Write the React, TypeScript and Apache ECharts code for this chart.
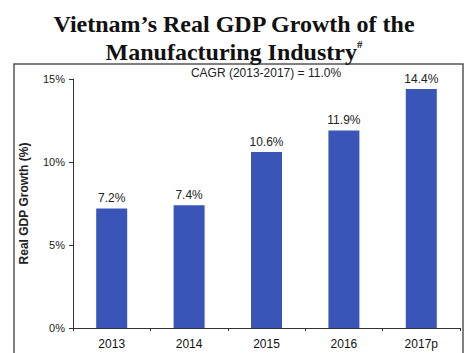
import React, { useEffect, useRef } from "react";
import * as echarts from "echarts";

const titleLines = ["Vietnam\u2019s Real GDP Growth of the", "Manufacturing Industry"];
const categories = ["2013", "2014", "2015", "2016", "2017p"];
const growth = [7.2, 7.4, 10.6, 11.9, 14.4];
const cagrText = "CAGR (2013-2017) = 11.0%";
const yAxisName = "Real GDP Growth (%)";

export default function App() {
  const ref = useRef<HTMLDivElement>(null);
  useEffect(() => {
    if (!ref.current) return;
    const chart = echarts.init(ref.current, undefined, { renderer: "svg" });
    chart.setOption({
      animation: false,
      backgroundColor: "#ffffff",
      title: {
        text: titleLines[0] + "\n" + titleLines[1] + "{sup|#}",
        left: "center",
        top: 5,
        textStyle: {
          fontFamily: "Liberation Serif",
          fontWeight: "bold",
          fontSize: 24,
          color: "#111",
          lineHeight: 28,
          rich: {
            sup: { fontFamily: "Liberation Serif", fontSize: 11, fontWeight: "bold", color: "#111", verticalAlign: "top", padding: [0, 0, 12, 0] },
          },
        },
      },
      graphic: [
        {
          type: "rect",
          shape: { x: 14, y: 64, width: 449, height: 300 },
          style: { fill: "none", stroke: "#555", lineWidth: 1.5 },
          silent: true,
        },
        {
          type: "text",
          x: 266,
          y: 73,
          style: {
            text: cagrText,
            fontFamily: "Liberation Sans",
            fontSize: 12,
            fill: "#222",
            align: "center",
            verticalAlign: "middle",
          },
        },
      ],
      grid: { left: 73, right: 8, top: 79, bottom: 25 },
      xAxis: {
        type: "category",
        data: categories,
        axisLine: { lineStyle: { color: "#333", width: 1 } },
        axisTick: { show: true, length: 3, inside: false, lineStyle: { color: "#333" } },
        axisLabel: { fontFamily: "Liberation Sans", fontSize: 12, color: "#111", margin: 10 },
      },
      yAxis: {
        type: "value",
        min: 0,
        max: 15,
        interval: 5,
        name: yAxisName,
        nameLocation: "middle",
        nameGap: 43,
        nameTextStyle: { fontFamily: "Liberation Sans", fontWeight: "bold", fontSize: 12, color: "#222" },
        axisLine: { show: true, lineStyle: { color: "#333", width: 1 } },
        axisTick: { show: true, length: 4, lineStyle: { color: "#333" } },
        splitLine: { show: false },
        axisLabel: { formatter: "{value}%", fontFamily: "Liberation Sans", fontSize: 11, color: "#222", margin: 8 },
      },
      series: [
        {
          type: "bar",
          data: growth,
          barWidth: 31,
          itemStyle: { color: "#3a55b8" },
          label: {
            show: true,
            position: "top",
            distance: 4,
            formatter: (p: any) => p.value.toFixed(1) + "%",
            fontFamily: "Liberation Sans",
            fontSize: 12,
            color: "#222",
          },
        },
      ],
    });
    return () => chart.dispose();
  }, []);
  return <div ref={ref} style={{ width: 468, height: 353, position: "absolute", left: 0, top: 0 }} />;
}
